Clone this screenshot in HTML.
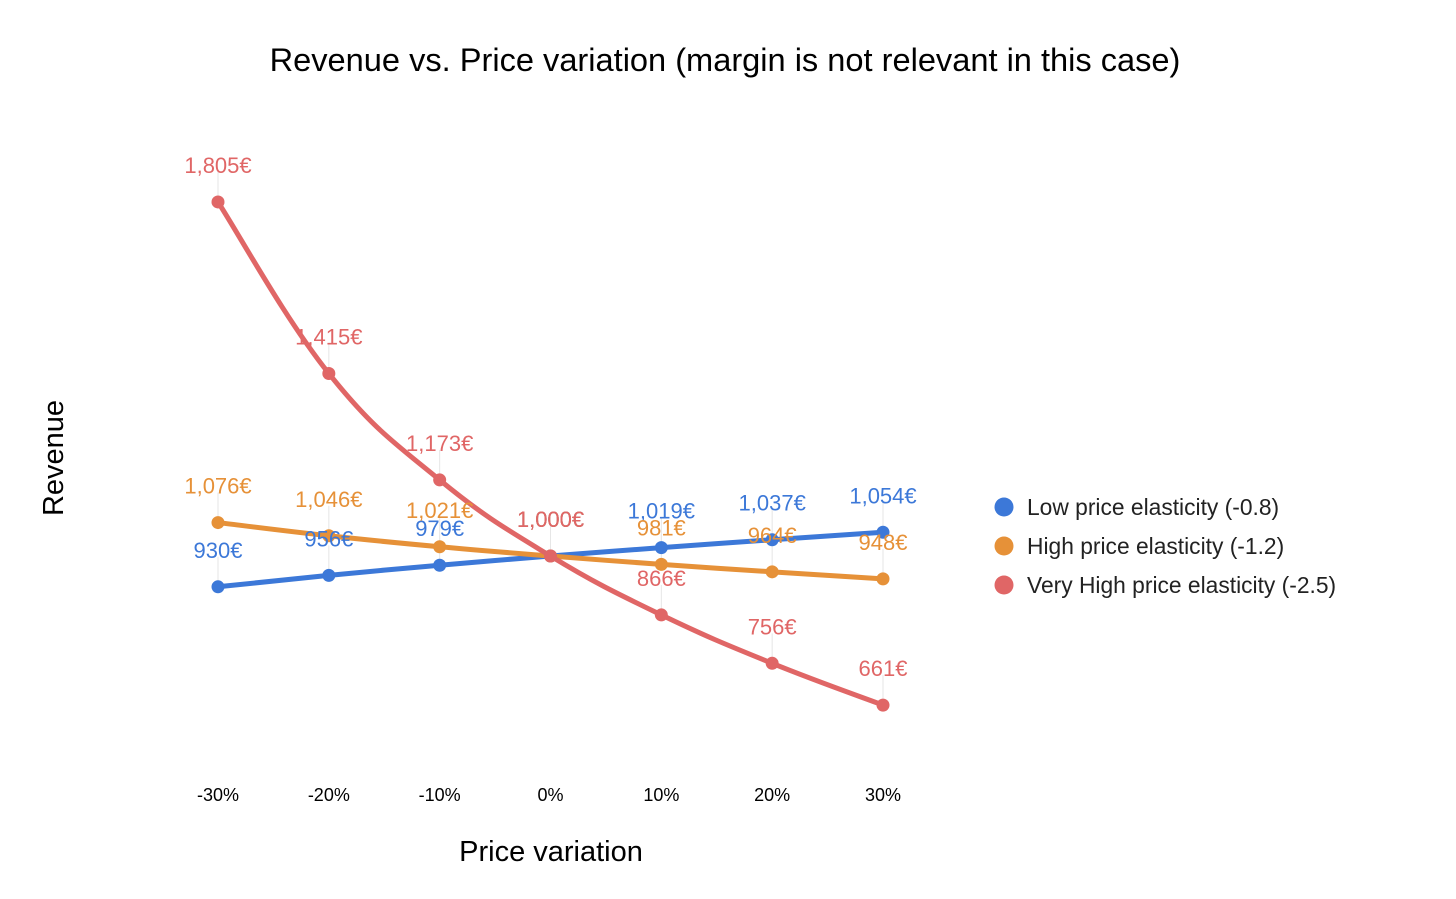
<!DOCTYPE html>
<html><head><meta charset="utf-8">
<style>
html,body{margin:0;padding:0;background:#fff;}
svg{display:block;font-family:"Liberation Sans",Arial,sans-serif;}
</style></head>
<body>
<svg id="chart" width="1456" height="899" viewBox="0 0 1456 899">
<text x="725" y="71" text-anchor="middle" font-size="32.6" fill="#000">Revenue vs. Price variation (margin is not relevant in this case)</text>
<text transform="translate(63,458) rotate(-90)" text-anchor="middle" font-size="29" fill="#000">Revenue</text>
<text x="551" y="861" text-anchor="middle" font-size="29" fill="#000">Price variation</text>
<g id="ticks"></g>
<g id="guides"></g>
<g id="lines"></g>
<g id="points"></g>
<g id="labels"></g>
<g id="legend"></g>
</svg>
<script>
const categories = ["-30%","-20%","-10%","0%","10%","20%","30%"];
const seriesNames = ["Low price elasticity (-0.8)","High price elasticity (-1.2)","Very High price elasticity (-2.5)"];
const lowValues = [930,956,979,1000,1019,1037,1054];
const highValues = [1076,1046,1021,1000,981,964,948];
const veryHighValues = [1805,1415,1173,1000,866,756,661];
const lineColors = ["#3c78d8","#e69138","#e06666"];
const labelColors = ["#3c78d8","#e69138","#e06666"];

const NS="http://www.w3.org/2000/svg";
function xScale(i){return 218 + i*(883-218)/(categories.length-1);}
function yScale(v){return 556 - (v-1000)*0.4398;}
function mk(tag,attrs,parent){const e=document.createElementNS(NS,tag);for(const k in attrs)e.setAttribute(k,attrs[k]);parent.appendChild(e);return e;}
function fmt(v){return v.toLocaleString("en-US")+"€";}
function smoothPath(pts){
  let d="M"+pts[0][0]+","+pts[0][1];
  for(let i=0;i<pts.length-1;i++){
    const p0=pts[i-1]||pts[i],p1=pts[i],p2=pts[i+1],p3=pts[i+2]||p2;
    const t=0.2;
    const c1=[p1[0]+(p2[0]-p0[0])*t,p1[1]+(p2[1]-p0[1])*t];
    const c2=[p2[0]-(p3[0]-p1[0])*t,p2[1]-(p3[1]-p1[1])*t];
    d+=" C"+c1[0]+","+c1[1]+" "+c2[0]+","+c2[1]+" "+p2[0]+","+p2[1];
  }
  return d;
}
const ticksG=document.getElementById("ticks");
categories.forEach((c,i)=>{
  const t=mk("text",{x:xScale(i),y:801,"text-anchor":"middle","font-size":"18",fill:"#000"},ticksG);
  t.textContent=c;
  
  
});
const all=[lowValues,highValues,veryHighValues];
const guides=document.getElementById("guides"),linesG=document.getElementById("lines"),ptsG=document.getElementById("points"),labG=document.getElementById("labels");
all.forEach((vals,s)=>{
  const pts=vals.map((v,i)=>[xScale(i),yScale(v)]);
  const p=mk("path",{d:smoothPath(pts),fill:"none",stroke:lineColors[s],"stroke-width":"5","stroke-linecap":"round"},linesG);
  
  
  pts.forEach((pt,i)=>{
    const g=mk("line",{x1:pt[0],x2:pt[0],y1:pt[1]-30,y2:pt[1],stroke:"#e6e6e6","stroke-width":"1"},guides);
    
    
    const c=mk("circle",{cx:pt[0],cy:pt[1],r:6.5,fill:lineColors[s]},ptsG);
    
    
    const t=mk("text",{x:pt[0],y:pt[1]-29,"text-anchor":"middle","font-size":"22",fill:labelColors[s]},labG);
    t.textContent=fmt(vals[i]);
    
    
  });
});
const legG=document.getElementById("legend");
seriesNames.forEach((n,s)=>{
  const y=507+s*39;
  const c=mk("circle",{cx:1004,cy:y,r:9.5,fill:lineColors[s]},legG);
  
  
  const t=mk("text",{x:1027,y:y+8,"font-size":"22.8",fill:"#222"},legG);
  t.textContent=n;
  
  
});
</script>
</body></html>
